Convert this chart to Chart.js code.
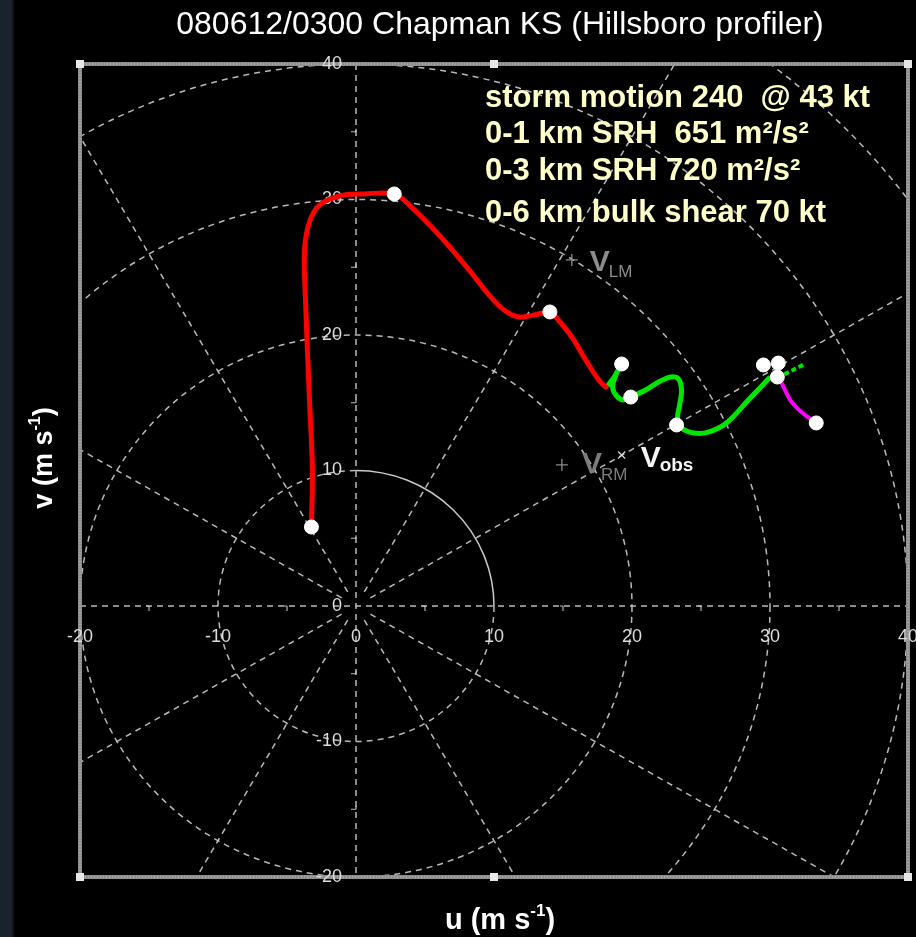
<!DOCTYPE html>
<html>
<head>
<meta charset="utf-8">
<script src="https://cdn.jsdelivr.net/npm/chart.js@4"></script>
<style>
  html, body { margin: 0; padding: 0; background: #000; }
  body { width: 916px; height: 937px; background: linear-gradient(to right, #1b222d 0, #1b222d 11px, #000 15px); }
  #wrap { position: relative; width: 916px; height: 937px; }
</style>
</head>
<body>
<div id="wrap"><canvas id="hodo" width="916" height="937"></canvas></div>
<script>
// axis ticks and rings (m/s)
const uTicks = [-20, -10, 0, 10, 20, 30, 40];
const vTicks = [-20, -10, 0, 10, 20, 30, 40];
const minorTicks = [-15, -5, 5, 15, 25, 35];
const ringRadii = [10, 20, 30, 40, 50, 60, 70];

// hodograph trace (u, v in m/s)
const redU = [-3.23, -3.16, -3.37, -3.66, -3.73, -3.37, -2.65, -1.20, 0.60, 2.77, 3.86, 6.02, 8.19, 9.64, 10.72, 11.81, 12.89, 14.05, 14.48, 15.64, 16.65, 17.59, 18.10, 18.24];
const redV = [5.83, 10.04, 15.20, 22.58, 26.27, 28.34, 29.59, 30.26, 30.41, 30.41, 29.59, 27.38, 24.80, 22.95, 21.85, 21.33, 21.48, 21.70, 21.33, 19.85, 18.15, 16.68, 16.16, 16.24];
const greenU = [18.24, 18.75, 19.04, 18.75, 18.60, 18.89, 19.40, 19.91, 20.99, 21.93, 22.80, 23.37, 23.59, 23.45, 23.30, 23.59, 24.46, 25.54, 26.84, 28.43, 30.02];
const greenV = [16.24, 16.97, 17.49, 16.83, 16.09, 15.50, 15.20, 15.42, 15.94, 16.53, 16.90, 16.75, 15.94, 14.83, 13.87, 13.14, 12.77, 12.84, 13.51, 15.20, 16.90];
const greenTipU = [31.04, 32.41];
const greenTipV = [17.10, 17.80];
const magentaU = [30.46, 30.89, 31.47, 32.27, 33.35];
const magentaV = [17.27, 16.38, 15.20, 14.32, 13.51];

// height markers (white dots)
const dotU = [-3.23, 2.77, 14.05, 19.25, 19.91, 23.23, 29.52, 30.60, 30.53, 33.35];
const dotV = [5.83, 30.41, 21.70, 17.86, 15.42, 13.36, 17.79, 17.93, 16.90, 13.51];

// storm motion vectors
const vecNames = ['LM', 'RM', 'obs'];
const vecU = [15.64, 14.92, 19.25];
const vecV = [25.54, 10.41, 11.14];

const titleText = '080612/0300 Chapman KS (Hillsboro profiler)';
const infoLines = [
  'storm motion 240  @ 43 kt',
  '0-1 km SRH  651 m\u00b2/s\u00b2',
  '0-3 km SRH 720 m\u00b2/s\u00b2',
  '0-6 km bulk shear 70 kt'
];

function pts(us, vs) {
  return us.map((u, i) => ({ x: u, y: vs[i] }));
}

const FONT = '"Liberation Sans", Arial, sans-serif';
const GRID = 'rgba(205,205,205,0.9)';

const hodoGrid = {
  id: 'hodoGrid',
  beforeDatasetsDraw(chart) {
    const ctx = chart.ctx;
    const a = chart.chartArea;
    const xs = chart.scales.x, ys = chart.scales.y;
    const ox = xs.getPixelForValue(0), oy = ys.getPixelForValue(0);
    const sx = xs.getPixelForValue(1) - ox;
    const sy = oy - ys.getPixelForValue(1);

    ctx.save();
    ctx.fillStyle = '#000';
    ctx.fillRect(a.left, a.top, a.right - a.left, a.bottom - a.top);
    ctx.beginPath();
    ctx.rect(a.left, a.top, a.right - a.left, a.bottom - a.top);
    ctx.clip();

    ctx.strokeStyle = GRID;
    ctx.lineWidth = 1.5;
    ctx.setLineDash([6, 5]);

    // rings
    ringRadii.forEach(r => {
      ctx.beginPath();
      if (r === 10) {
        ctx.ellipse(ox, oy, r * sx, r * sy, 0, 0, Math.PI * 1.5);
      } else {
        ctx.ellipse(ox, oy, r * sx, r * sy, 0, 0, Math.PI * 2);
      }
      ctx.stroke();
    });
    // solid quarter of the 10 m/s ring
    ctx.setLineDash([]);
    ctx.strokeStyle = '#c8c8c8';
    ctx.beginPath();
    ctx.ellipse(ox, oy, 10 * sx, 10 * sy, 0, -Math.PI / 2, 0);
    ctx.stroke();

    // radials every 30 degrees
    ctx.strokeStyle = GRID;
    ctx.setLineDash([6, 5]);
    for (let d = 0; d < 360; d += 30) {
      if (d % 90 === 0) continue;
      const t = d * Math.PI / 180;
      ctx.beginPath();
      ctx.moveTo(ox + 1.2 * Math.cos(t) * sx, oy - 1.2 * Math.sin(t) * sy);
      ctx.lineTo(ox + 90 * Math.cos(t) * sx, oy - 90 * Math.sin(t) * sy);
      ctx.stroke();
    }
    // axes
    ctx.beginPath();
    ctx.moveTo(a.left, oy); ctx.lineTo(a.right, oy);
    ctx.moveTo(ox, a.top); ctx.lineTo(ox, a.bottom);
    ctx.stroke();

    // minor ticks
    ctx.setLineDash([]);
    ctx.lineWidth = 1.2;
    minorTicks.forEach(m => {
      const px = xs.getPixelForValue(m);
      ctx.beginPath();
      ctx.moveTo(px, oy); ctx.lineTo(px, oy + 5);
      ctx.moveTo(px, oy); ctx.lineTo(px - 3, oy);
      ctx.stroke();
      const py = ys.getPixelForValue(m);
      ctx.beginPath();
      ctx.moveTo(ox, py); ctx.lineTo(ox - 5, py);
      ctx.moveTo(ox, py); ctx.lineTo(ox, py - 3);
      ctx.stroke();
    });
    ctx.restore();

    // border
    ctx.save();
    ctx.strokeStyle = '#8e8e8e';
    ctx.lineWidth = 4;
    ctx.strokeRect(a.left, a.top, a.right - a.left, a.bottom - a.top);
    ctx.strokeStyle = '#c4c4c4';
    ctx.lineWidth = 1;
    ctx.setLineDash([1, 2]);
    ctx.strokeRect(a.left, a.top, a.right - a.left, a.bottom - a.top);
    ctx.setLineDash([]);
    ctx.fillStyle = '#e8e8e8';
    const sq = [[a.left, a.top], [a.right, a.top], [a.left, a.bottom], [a.right, a.bottom],
      [xs.getPixelForValue(10), a.top], [xs.getPixelForValue(10), a.bottom]];
    sq.forEach(p => ctx.fillRect(p[0] - 4, p[1] - 4, 8, 8));
    ctx.restore();

    // tick labels
    ctx.save();
    ctx.font = '18px ' + FONT;
    ctx.fillStyle = '#dcdcdc';
    ctx.textBaseline = 'middle';
    ctx.textAlign = 'center';
    uTicks.forEach(u => ctx.fillText(String(u), xs.getPixelForValue(u), oy + 31));
    ctx.textAlign = 'right';
    vTicks.forEach(v => ctx.fillText(String(v), ox - 14, ys.getPixelForValue(v)));
    ctx.restore();
  },
  afterDatasetsDraw(chart) {
    const ctx = chart.ctx;
    const xs = chart.scales.x, ys = chart.scales.y;
    ctx.save();
    ctx.textBaseline = 'alphabetic';
    ctx.textAlign = 'left';

    // vector labels
    const styles = {
      LM: { c: '#8c8c8c', dx: 18, dy: 11, sdy: 17, sub: '17px ' + FONT },
      RM: { c: '#7c7c7c', dx: 20, dy: 8, sdy: 15, sub: '17px ' + FONT },
      obs: { c: '#f4f4f4', dx: 19, dy: 12, sdy: 16, sub: 'bold 19px ' + FONT }
    };
    vecNames.forEach((n, i) => {
      const s = styles[n];
      const px = xs.getPixelForValue(vecU[i]) + s.dx;
      const py = ys.getPixelForValue(vecV[i]);
      ctx.fillStyle = s.c;
      ctx.font = 'bold 30px ' + FONT;
      ctx.fillText('V', px, py + s.dy);
      const w = ctx.measureText('V').width;
      ctx.font = s.sub;
      ctx.fillText(n, px + w - 1, py + s.sdy);
    });

    // info block
    ctx.fillStyle = '#ffffc8';
    ctx.font = 'bold 31px ' + FONT;
    const base = [107, 143, 180, 222];
    infoLines.forEach((t, i) => ctx.fillText(t, 485, base[i]));

    // title
    ctx.fillStyle = '#ffffff';
    ctx.font = '32px ' + FONT;
    ctx.textAlign = 'center';
    ctx.fillText(titleText, 500, 34);

    // axis titles
    ctx.fillStyle = '#ffffff';
    drawUnitLabel(ctx, 'u', 500, 929, 0, 29);
    drawUnitLabel(ctx, 'v', 52, 458, -Math.PI / 2, 27);
    ctx.restore();
  }
};

function drawUnitLabel(ctx, sym, cx, cy, rot, size) {
  const big = 'bold ' + size + 'px ' + FONT, small = 'bold ' + Math.round(size * 0.6) + 'px ' + FONT;
  const p1 = sym + ' (m s', p2 = '-1', p3 = ')';
  ctx.save();
  ctx.translate(cx, cy);
  ctx.rotate(rot);
  ctx.textAlign = 'left';
  ctx.font = big; const w1 = ctx.measureText(p1).width, w3 = ctx.measureText(p3).width;
  ctx.font = small; const w2 = ctx.measureText(p2).width;
  let x = -(w1 + w2 + w3) / 2;
  ctx.font = big; ctx.fillText(p1, x, 0); x += w1;
  ctx.font = small; ctx.fillText(p2, x, -size * 0.45); x += w2;
  ctx.font = big; ctx.fillText(p3, x, 0);
  ctx.restore();
}

const lineStyle = { showLine: true, pointRadius: 0, tension: 0.35, fill: false };

new Chart(document.getElementById('hodo'), {
  type: 'scatter',
  data: {
    datasets: [
      { label: 'heights', data: pts(dotU, dotV), order: 0, pointRadius: 7, pointHoverRadius: 7,
        pointBackgroundColor: '#ffffff', pointBorderColor: '#ffffff', pointBorderWidth: 1, showLine: false },
      { label: 'vectors', data: pts(vecU, vecV), order: 0, pointStyle: ['cross', 'cross', 'crossRot'],
        pointRadius: [6, 6, 5], pointBorderColor: ['#8c8c8c', '#8c8c8c', '#dddddd'], pointBorderWidth: 1.3, showLine: false },
      Object.assign({ label: '0-1 km', data: pts(redU, redV), order: 1, borderColor: '#ff0000', borderWidth: 5 }, lineStyle),
      Object.assign({ label: '1-3 km', data: pts(greenU, greenV), order: 2, borderColor: '#00e600', borderWidth: 5 }, lineStyle),
      Object.assign({ label: 'tip', data: pts(greenTipU, greenTipV), order: 2, borderColor: '#00e600', borderWidth: 4, borderDash: [5, 3] }, lineStyle),
      Object.assign({ label: '3-6 km', data: pts(magentaU, magentaV), order: 3, borderColor: '#ff00ff', borderWidth: 4 }, lineStyle)
    ]
  },
  options: {
    responsive: false,
    animation: false,
    events: [],
    layout: { padding: { left: 80, right: 6, top: 64, bottom: 60 } },
    scales: {
      x: { type: 'linear', min: -20, max: 40, display: false },
      y: { type: 'linear', min: -20, max: 40, display: false }
    },
    plugins: { legend: { display: false }, tooltip: { enabled: false } }
  },
  plugins: [hodoGrid]
});
</script>
</body>
</html>
